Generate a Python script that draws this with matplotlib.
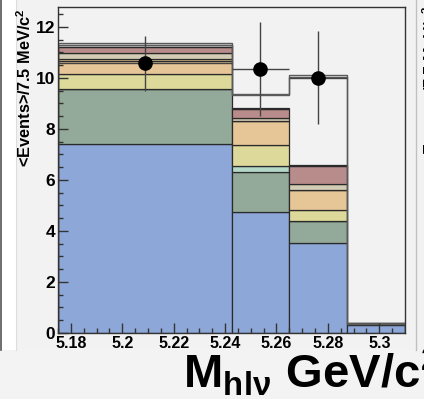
import numpy as np
import matplotlib.pyplot as plt
from matplotlib.patches import Rectangle
from matplotlib.lines import Line2D

plt.rcParams['font.family'] = ['Liberation Sans', 'DejaVu Sans']
plt.rcParams['font.weight'] = 'bold'
plt.rcParams['mathtext.fontset'] = 'custom'
plt.rcParams['mathtext.rm'] = 'Liberation Sans:bold'
plt.rcParams['mathtext.bf'] = 'Liberation Sans:bold'
plt.rcParams['mathtext.it'] = 'Liberation Sans:bold'
plt.rcParams['mathtext.default'] = 'rm'

# bin edges (GeV/c^2), variable width
edges = [5.175, 5.2425, 5.265, 5.2875, 5.31]

# stacked components, bottom to top, <events>/7.5 MeV
blue = [7.41, 4.73, 3.52, 0.33]
green = [2.16, 1.60, 0.87, 0.01]
teal = [0.00, 0.22, 0.00, 0.00]
yellow = [0.59, 0.82, 0.43, 0.01]
orange = [0.51, 0.94, 0.80, 0.01]
orange2 = [0.07, 0.00, 0.00, 0.00]
beige = [0.23, 0.13, 0.22, 0.01]
red = [0.25, 0.34, 0.71, 0.01]
grey = [0.08, 0.03, 0.03, 0.00]

# totals with signal added (outline only)
total_a = [11.37, 9.36, 10.13, 0.40]
total_b = [11.30, 9.33, 10.03, 0.36]

# data
data_y = [10.57, 10.34, 10.01]
data_err = [1.07, 1.85, 1.81]

components = [
    (blue, '#8da8d8'),
    (green, '#93aa9a'),
    (teal, '#b4d8c8'),
    (yellow, '#dcd99a'),
    (orange, '#e6c597'),
    (orange2, '#e6c597'),
    (beige, '#d3ccb4'),
    (red, '#b98c8c'),
    (grey, '#e2e2e2'),
]

W, H = 424, 407
fig = plt.figure(figsize=(W / 100, H / 100), dpi=100, facecolor='white')

def fx(px):
    return px / W

def fy(py):
    return 1 - py / H

# canvas panels
fig.add_artist(Rectangle((fx(16), fy(350)), fx(408), 350 / H, transform=fig.transFigure,
                         facecolor='#f2f2f2', edgecolor='none', zorder=-5))
fig.add_artist(Rectangle((0, fy(399)), 1, 49 / H, transform=fig.transFigure,
                         facecolor='#f3f3f3', edgecolor='none', zorder=-5))
fig.add_artist(Line2D([fx(0.5), fx(0.5)], [fy(350), 1], transform=fig.transFigure,
                      color='#555555', lw=1.2, zorder=-4))
fig.add_artist(Line2D([fx(16), fx(16)], [fy(350), 1], transform=fig.transFigure,
                      color='#dddddd', lw=0.8, zorder=-4))
fig.add_artist(Line2D([fx(416), fx(416)], [fy(350), 1], transform=fig.transFigure,
                      color='#c0c0c0', lw=1, zorder=-4))

ax = fig.add_axes([fx(58), fy(333), fx(347), 326 / H])
ax.set_facecolor('#f2f2f2')

edges = np.array(edges)
widths = np.diff(edges)
bottom = np.zeros(len(widths))
for vals, col in components:
    vals = np.array(vals)
    ax.bar(edges[:-1], vals, width=widths, bottom=bottom, align='edge',
           color=col, edgecolor='#2a2a2a', linewidth=0.9)
    bottom = bottom + vals

ax.stairs(total_b, edges, color='#5a5a5a', lw=1.0)
ax.stairs(total_a, edges, color='#5a5a5a', lw=1.0)

centers = (edges[:-1] + edges[1:]) / 2
ax.errorbar(centers[:3], data_y, yerr=data_err, xerr=widths[:3] / 2, fmt='o',
            color='black', ms=9.5, ecolor='#444444', elinewidth=1, capsize=0, zorder=5)

ax.set_xlim(edges[0], edges[-1])
ax.set_ylim(0, 12.78)
ax.set_xticks([5.18, 5.2, 5.22, 5.24, 5.26, 5.28, 5.3])
ax.set_xticklabels(['5.18', '5.2', '5.22', '5.24', '5.26', '5.28', '5.3'])
ax.set_xticks(np.arange(5.175, 5.31, 0.005), minor=True)
ax.set_yticks(range(0, 13, 2))
ax.set_yticks(np.arange(0, 12.8, 0.5), minor=True)
ax.tick_params(which='both', direction='in', color='#333333', width=1,
               top=False, right=False)
ax.tick_params(which='major', length=7.2)
ax.tick_params(which='minor', length=3.6)
ax.tick_params(axis='x', pad=2, labelsize=11.5)
ax.tick_params(axis='y', pad=2, labelsize=12.5)
for lab in ax.get_xticklabels() + ax.get_yticklabels():
    lab.set_fontweight('bold')
for s in ax.spines.values():
    s.set_color('#333333')
    s.set_linewidth(1)

fig.text(fx(34), fy(8), r'<Events>/7.5 MeV/c$^{2}$', rotation=90,
         ha='right', va='top', fontsize=11.8, fontweight='bold')
fig.text(fx(421), fy(5), r'<Events>/7.5 MeV/c$^{2}$', rotation=90,
         ha='left', va='top', fontsize=11.8, fontweight='bold')
fig.text(fx(183), fy(388), r'$M_{hl\nu}\ GeV/c^{2}$', ha='left', va='baseline',
         fontsize=34)

fig.savefig('out.png', dpi=100, facecolor=fig.get_facecolor())
